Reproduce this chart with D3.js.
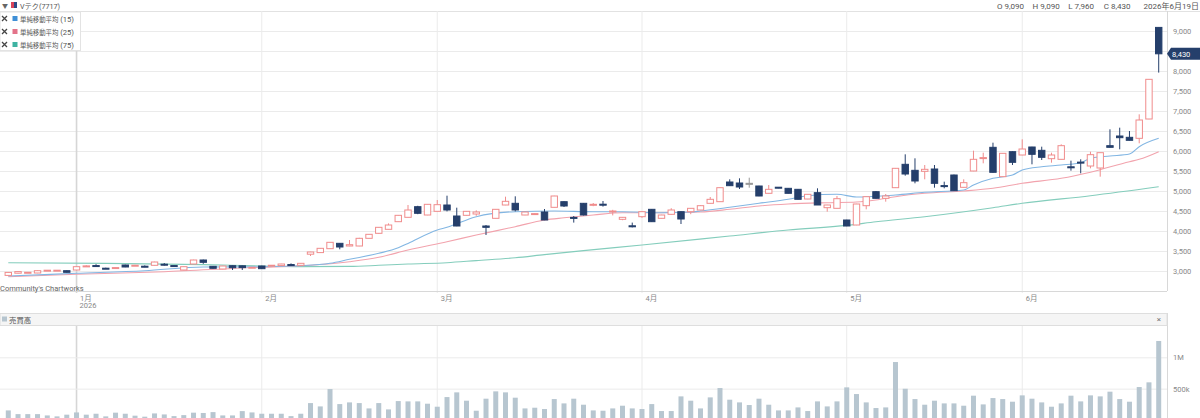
<!DOCTYPE html>
<html>
<head>
<meta charset="utf-8">
<title>Vテク(7717)</title>
<script src="https://d3js.org/d3.v7.min.js"></script>
<style>
  body { margin: 0; background: #fff; }
  svg text { font-family: Roboto, "Noto Sans CJK JP", sans-serif; }
</style>
</head>
<body>
<div id="chart"></div>
<script>
// trading days by month
const tradingDays = [
  ["2025-12", [22, 23, 24, 25, 26, 29, 30]],
  ["2026-01", [5, 6, 7, 8, 9, 13, 14, 15, 16, 19, 20, 21, 22, 23, 26, 27, 28, 29, 30]],
  ["2026-02", [2, 3, 4, 5, 6, 9, 10, 12, 13, 16, 17, 18, 19, 20, 24, 25, 26, 27]],
  ["2026-03", [2, 3, 4, 5, 6, 9, 10, 11, 12, 13, 16, 17, 18, 19, 23, 24, 25, 26, 27, 30, 31]],
  ["2026-04", [1, 2, 3, 6, 7, 8, 9, 10, 13, 14, 15, 16, 17, 20, 21, 22, 23, 24, 27, 28, 30]],
  ["2026-05", [1, 7, 8, 11, 12, 13, 14, 15, 18, 19, 20, 21, 22, 25, 26, 27, 28, 29]],
  ["2026-06", [1, 2, 3, 4, 5, 8, 9, 10, 11, 12, 15, 16, 17, 18, 19]]
];
const monthLabels = ["1月", "2月", "3月", "4月", "5月", "6月"];
const yearLabel = "2026";

const open = [2890, 2945, 2962, 2950, 3014, 3014, 3008, 3025, 3122, 3136, 3070, 3080, 3150, 3138, 3120, 3142, 3170, 3136, 3025, 3175,
  3275, 3117, 3050, 3133, 3130, 3088, 3125, 3138, 3135, 3162, 3142, 3420, 3460, 3558, 3692, 3625, 3625, 3817, 3942, 4042,
  4233, 4342, 4608, 4400, 4492, 4650, 4375, 4392, 4425, 4125, 4317, 4650, 4692, 4400, 4425, 4475, 4592, 4733, 4340, 4692,
  4660, 4670, 4495, 4292, 4130, 4358, 4542, 4317, 4417, 4483, 4483, 4525, 4692, 4733, 5225, 5200, 5192, 5125, 4942, 5095,
  5067, 5042, 4800, 4958, 4583, 4567, 4275, 4150, 4633, 4983, 4817, 5083, 5667, 5517, 5492, 5550, 5135, 5400, 5092, 5500,
  5825, 6092, 5358, 5983, 5900, 6100, 6017, 5808, 5792, 5605, 5722, 5625, 5575, 6133, 6375, 6342, 6317, 6800, 9090];
const high = [2975, 2990, 2975, 3015, 3025, 3025, 3012, 3115, 3145, 3170, 3082, 3092, 3158, 3152, 3140, 3232, 3200, 3142, 3112, 3282,
  3285, 3122, 3130, 3138, 3135, 3100, 3132, 3150, 3180, 3190, 3198, 3480, 3575, 3720, 3700, 3775, 3830, 3925, 4095, 4190,
  4400, 4650, 4630, 4670, 4775, 4883, 4583, 4500, 4517, 4150, 4545, 4858, 4867, 4480, 4450, 4550, 4880, 4740, 4375, 4700,
  4700, 4750, 4530, 4350, 4210, 4500, 4550, 4405, 4570, 4490, 4570, 4640, 4850, 5085, 5292, 5317, 5333, 5130, 5150, 5100,
  5075, 5050, 4920, 5067, 4655, 4875, 4280, 4680, 4860, 5000, 4925, 5570, 5917, 5817, 5650, 5650, 5233, 5410, 5292, 6008,
  5958, 6208, 5945, 5990, 6292, 6105, 6108, 5958, 6167, 5758, 5792, 5983, 5960, 6542, 6583, 6500, 6917, 7792, 9090];
const low = [2880, 2940, 2955, 2945, 3008, 3008, 2962, 3020, 3110, 3100, 3055, 3072, 3095, 3130, 3095, 3138, 3135, 3124, 3020, 3170,
  3180, 3060, 3045, 3025, 3025, 3078, 3052, 3130, 3130, 3125, 3138, 3375, 3455, 3555, 3542, 3620, 3620, 3815, 3935, 4040,
  4230, 4340, 4420, 4395, 4490, 4490, 4120, 4390, 4380, 3900, 4315, 4645, 4490, 4395, 4415, 4270, 4590, 4600, 4210, 4390,
  4620, 4610, 4390, 4270, 4090, 4330, 4230, 4315, 4415, 4175, 4420, 4520, 4690, 4730, 5130, 5050, 5083, 4870, 4940, 5070,
  4940, 4790, 4795, 4650, 4483, 4565, 4120, 4145, 4542, 4810, 4733, 5080, 5383, 5192, 5292, 5083, 5067, 5000, 5090, 5495,
  5692, 5460, 5355, 5650, 5895, 5667, 5775, 5708, 5790, 5508, 5442, 5567, 5358, 6090, 6042, 6265, 6192, 6795, 7960];
const close = [2965, 2985, 2968, 3008, 3020, 3020, 2967, 3108, 3128, 3130, 3064, 3086, 3100, 3144, 3115, 3225, 3165, 3130, 3108, 3275,
  3217, 3067, 3125, 3083, 3085, 3094, 3058, 3144, 3175, 3156, 3192, 3475, 3567, 3717, 3600, 3658, 3817, 3917, 4092, 4150,
  4392, 4525, 4442, 4667, 4658, 4525, 4125, 4492, 4475, 4092, 4542, 4742, 4525, 4475, 4435, 4275, 4875, 4625, 4330, 4400,
  4667, 4660, 4500, 4342, 4120, 4483, 4233, 4400, 4525, 4300, 4567, 4633, 4792, 5083, 5133, 5100, 5192, 4875, 5042, 5075,
  4942, 4792, 4917, 4650, 4650, 4808, 4125, 4675, 4858, 4817, 4875, 5567, 5425, 5250, 5542, 5192, 5133, 5008, 5208, 5792,
  5835, 5467, 5942, 5717, 6050, 5917, 5842, 5900, 6133, 5595, 5712, 5908, 5958, 6092, 6333, 6267, 6775, 7792, 8430];
const volume = [153, 94, 94, 94, 73, 58, 85, 121, 85, 100, 58, 117, 100, 69, 53, 105, 89, 62, 78, 117,
  112, 126, 73, 73, 142, 121, 100, 100, 100, 62, 100, 270, 217, 494, 254, 281, 270, 185, 270, 169,
  302, 297, 297, 260, 212, 366, 441, 308, 148, 340, 457, 441, 356, 185, 196, 175, 334, 265, 340, 244,
  153, 148, 185, 228, 185, 175, 254, 143, 143, 377, 308, 185, 361, 510, 324, 281, 239, 340, 244, 153,
  153, 201, 143, 297, 217, 297, 521, 414, 281, 191, 201, 925, 499, 334, 244, 308, 265, 265, 228, 388,
  249, 350, 334, 292, 393, 340, 281, 212, 265, 388, 297, 393, 377, 452, 334, 292, 526, 601, 1261].map(v => v * 1000);

// moving averages: [candle index, value]
const ma15 = [[0, 2875], [7, 2942], [14, 3008], [20, 3100], [26, 3108], [30, 3133], [33, 3192], [35, 3292], [38, 3442], [40, 3580],
  [41, 3690], [44, 4025], [45, 4092], [48, 4358], [52, 4483], [56, 4500], [60, 4483], [63, 4483], [67, 4458], [70, 4475],
  [71, 4500], [74, 4592], [77, 4692], [80, 4792], [82, 4883], [85, 4917], [87, 4850], [91, 4900], [94, 4967], [98, 5025],
  [99, 5150], [101, 5317], [103, 5400], [104, 5525], [106, 5608], [108, 5650], [110, 5708], [111, 5817], [113, 5875],
  [115, 5925], [116, 6108], [118, 6317]];
const ma25 = [[0, 2858], [7, 2917], [16, 2983], [26, 3092], [28, 3108], [35, 3233], [38, 3342], [41, 3525], [45, 3733],
  [48, 3900], [52, 4108], [55, 4275], [57, 4330], [60, 4400], [63, 4458], [67, 4458], [71, 4475], [74, 4542], [77, 4625],
  [80, 4675], [84, 4708], [87, 4725], [89, 4775], [91, 4858], [94, 4942], [98, 5000], [101, 5067], [104, 5192],
  [108, 5317], [111, 5470], [115, 5733], [116, 5792], [118, 5983]];
const ma75 = [[0, 3208], [10, 3190], [20, 3160], [26, 3125], [30, 3110], [35, 3115], [38, 3142], [41, 3175], [45, 3208],
  [48, 3260], [52, 3330], [55, 3410], [59, 3510], [65, 3650], [74, 3875], [80, 4025], [86, 4140], [89, 4230], [94, 4358],
  [101, 4583], [104, 4692], [111, 4883], [118, 5108]];

const dates = tradingDays.flatMap(([m, days]) => days.map(d => `${m}-${String(d).padStart(2, "0")}`));
const monthStarts = tradingDays.slice(1).map(([m, days]) => `${m}-${String(days[0]).padStart(2, "0")}`);

const width = 1200, height = 418;
const plotW = 1167;
const mainTop = 11, mainBottom = 291;
const volHeadTop = 313, volTop = 326, volBottom = 420;

const upColor = "#f08c8c", downColor = "#253f6b", flatColor = "#999";
const maColors = ["#82b6e3", "#f2a3ad", "#84cdbc"];
const legendColors = ["#3f8fd6", "#e3738a", "#3fb3a2"];

const svg = d3.select("#chart").append("svg")
  .attr("width", width)
  .attr("height", height);

const x = d3.scalePoint().domain(dates).range([0, plotW]).padding(0.85);
const y = d3.scaleLinear().domain([2500, 9500]).range([mainBottom, mainTop]);
const yv = d3.scaleLinear().domain([0, 1500000]).range([volBottom, volTop]);
const fmt = d3.format(",");
const last = dates.length - 1;

// header row
svg.append("line").attr("x1", 0).attr("x2", width).attr("y1", mainTop + 0.5).attr("y2", mainTop + 0.5)
  .attr("stroke", "#e2e2e2");
svg.append("text").attr("x", 2).attr("y", 8).attr("font-size", 6).attr("fill", "#666").text("▼");
svg.append("rect").attr("x", 11).attr("y", 2).attr("width", 3).attr("height", 6).attr("fill", "#d9435a");
svg.append("rect").attr("x", 14).attr("y", 2).attr("width", 3).attr("height", 6).attr("fill", "#2d4a86");
svg.append("text").attr("x", 20).attr("y", 8.5).attr("font-size", 7.2).attr("fill", "#555").text("Vテク(7717)");

const ohlcText = [["O", open], ["H", high], ["L", low], ["C", close]];
svg.selectAll(".ohlc").data(ohlcText).enter().append("text")
  .attr("class", "ohlc")
  .attr("x", (d, i) => 997 + i * 35.6)
  .attr("y", 8.5)
  .attr("font-size", 8)
  .attr("fill", "#555")
  .text(d => `${d[0]} ${fmt(d[1][last])}`);
svg.append("text").attr("x", 1199).attr("y", 8.5).attr("text-anchor", "end")
  .attr("font-size", 8).attr("fill", "#555").text("2026年6月19日");

// grid
const grid = svg.append("g");
grid.selectAll(".hg").data(d3.range(3000, 9001, 500)).enter().append("line")
  .attr("x1", 0).attr("x2", plotW)
  .attr("y1", d => y(d) + 0.5).attr("y2", d => y(d) + 0.5)
  .attr("stroke", "#ebebeb");
grid.selectAll(".vg").data(monthStarts).enter().append("line")
  .attr("x1", d => x(d)).attr("x2", d => x(d))
  .attr("y1", mainTop).attr("y2", mainBottom + 2)
  .attr("stroke", (d, i) => i === 0 ? "#d6d6d6" : "#ebebeb")
  .attr("stroke-width", (d, i) => i === 0 ? 1.6 : 1);
grid.selectAll(".vgv").data(monthStarts).enter().append("line")
  .attr("x1", d => x(d)).attr("x2", d => x(d))
  .attr("y1", volTop).attr("y2", height)
  .attr("stroke", (d, i) => i === 0 ? "#d6d6d6" : "#ebebeb")
  .attr("stroke-width", (d, i) => i === 0 ? 1.6 : 1);
grid.selectAll(".vh").data([500000, 1000000]).enter().append("line")
  .attr("x1", 0).attr("x2", plotW)
  .attr("y1", d => yv(d) + 0.5).attr("y2", d => yv(d) + 0.5)
  .attr("stroke", "#ebebeb");

// axis frames
svg.append("line").attr("x1", plotW + 0.5).attr("x2", plotW + 0.5).attr("y1", mainTop).attr("y2", mainBottom)
  .attr("stroke", "#d8d8d8");
svg.append("line").attr("x1", 0).attr("x2", plotW).attr("y1", mainBottom + 0.5).attr("y2", mainBottom + 0.5)
  .attr("stroke", "#d8d8d8");
svg.append("line").attr("x1", plotW + 0.5).attr("x2", plotW + 0.5).attr("y1", volHeadTop).attr("y2", height)
  .attr("stroke", "#d8d8d8");

// right price axis (8,500 sits under the last-price tag)
const lastY = y(close[last]);
const yAxis = svg.append("g")
  .attr("transform", `translate(${plotW + 3},0)`)
  .call(d3.axisRight(y)
    .tickValues(d3.range(3000, 9001, 500).filter(v => Math.abs(y(v) - lastY) > 8))
    .tickFormat(fmt).tickSize(0));
yAxis.select(".domain").remove();
yAxis.selectAll("text").attr("font-size", 7.5).attr("fill", "#888").attr("font-family", null);

// bottom month axis
const xAxis = svg.append("g")
  .attr("transform", `translate(0,${mainBottom})`)
  .call(d3.axisBottom(x).tickValues(monthStarts).tickFormat((d, i) => monthLabels[i]).tickSize(0));
xAxis.select(".domain").remove();
xAxis.selectAll("text").attr("font-size", 7.5).attr("fill", "#888").attr("text-anchor", "start")
  .attr("dx", 3).attr("dy", "0.9em").attr("font-family", null);
svg.append("text").attr("x", x(monthStarts[0]) + 3).attr("y", 308)
  .attr("font-size", 7.5).attr("fill", "#888").text(yearLabel);

svg.append("text").attr("x", 0).attr("y", 290.5).attr("font-size", 7.5).attr("fill", "#666")
  .text("Community's Chartworks");

// moving averages
const maLine = d3.line()
  .x(d => x(dates[d[0]]))
  .y(d => y(d[1]))
  .curve(d3.curveMonotoneX);
[ma75, ma25, ma15].forEach((ma, i) => {
  svg.append("path")
    .datum(ma)
    .attr("d", maLine)
    .attr("fill", "none")
    .attr("stroke", maColors[2 - i])
    .attr("stroke-width", 1.1);
});

// candles
const candles = dates.map((d, i) => ({ date: d, o: open[i], h: high[i], l: low[i], c: close[i] }));
const colorOf = d => d.c > d.o ? upColor : d.c < d.o ? downColor : flatColor;
const bodyW = 6.4;

const cg = svg.append("g").selectAll("g").data(candles).enter().append("g");
cg.append("line")
  .attr("x1", d => x(d.date)).attr("x2", d => x(d.date))
  .attr("y1", d => y(d.h)).attr("y2", d => y(d.l))
  .attr("stroke", colorOf)
  .attr("stroke-width", 1);
cg.append("rect")
  .attr("x", d => x(d.date) - bodyW / 2)
  .attr("width", bodyW)
  .attr("y", d => y(Math.max(d.o, d.c)))
  .attr("height", d => Math.max(1, y(Math.min(d.o, d.c)) - y(Math.max(d.o, d.c))))
  .attr("fill", d => d.c > d.o ? "#fff" : colorOf(d))
  .attr("stroke", colorOf)
  .attr("stroke-width", 1);

// last price tag
svg.append("path")
  .attr("d", `M${plotW},${lastY} L${plotW + 4},${lastY - 6} L${width},${lastY - 6} L${width},${lastY + 6} L${plotW + 4},${lastY + 6} Z`)
  .attr("fill", downColor);
svg.append("text").attr("x", plotW + 5).attr("y", lastY + 3).attr("font-size", 7.5).attr("fill", "#fff")
  .text(fmt(close[last]));

// legend
const legendNames = ["単純移動平均", "単純移動平均", "単純移動平均"];
const legendParams = ["(15)", "(25)", "(75)"];
svg.append("rect").attr("x", 0).attr("y", mainTop + 1).attr("width", 80.5).attr("height", 38.5)
  .attr("fill", "#fff").attr("stroke", "#e3e3e3");
const lg = svg.selectAll(".lg").data(legendNames).enter().append("g")
  .attr("transform", (d, i) => `translate(0,${18.5 + i * 13})`);
lg.append("path").attr("d", "M2,-2.5 L7,2.5 M7,-2.5 L2,2.5")
  .attr("stroke", "#444").attr("stroke-width", 1.3);
lg.append("rect").attr("x", 12.5).attr("y", -2.5).attr("width", 5).attr("height", 5)
  .attr("fill", (d, i) => legendColors[i]);
const lt = lg.append("text").attr("x", 20).attr("y", 3).attr("fill", "#555");
lt.append("tspan").attr("font-size", 6.4).text(d => d);
lt.append("tspan").attr("font-size", 7.6).text((d, i) => " " + legendParams[i]);

// volume panel
svg.append("rect").attr("x", 0).attr("y", volHeadTop + 0.5).attr("width", plotW).attr("height", volTop - volHeadTop - 1)
  .attr("fill", "#f5f5f5").attr("stroke", "#dedede");
svg.append("rect").attr("x", 2).attr("y", 316.5).attr("width", 5).attr("height", 5).attr("fill", "#b6c5cf");
svg.append("text").attr("x", 9).attr("y", 322.5).attr("font-size", 7.4).attr("fill", "#555").text("売買高");
svg.append("text").attr("x", 1159).attr("y", 322).attr("font-size", 8).attr("fill", "#777")
  .attr("text-anchor", "middle").text("×");

svg.append("g").selectAll("rect").data(volume).enter().append("rect")
  .attr("x", (d, i) => x(dates[i]) - 2.5)
  .attr("width", 5)
  .attr("y", d => yv(d))
  .attr("height", d => volBottom - yv(d))
  .attr("fill", "#b7c6d0");

const vAxis = svg.append("g")
  .attr("transform", `translate(${plotW + 3},0)`)
  .call(d3.axisRight(yv).tickValues([500000, 1000000])
    .tickFormat(d => d >= 1e6 ? `${d / 1e6}M` : `${d / 1e3}k`).tickSize(0));
vAxis.select(".domain").remove();
vAxis.selectAll("text").attr("font-size", 7.5).attr("fill", "#888").attr("font-family", null);
</script>
</body>
</html>
